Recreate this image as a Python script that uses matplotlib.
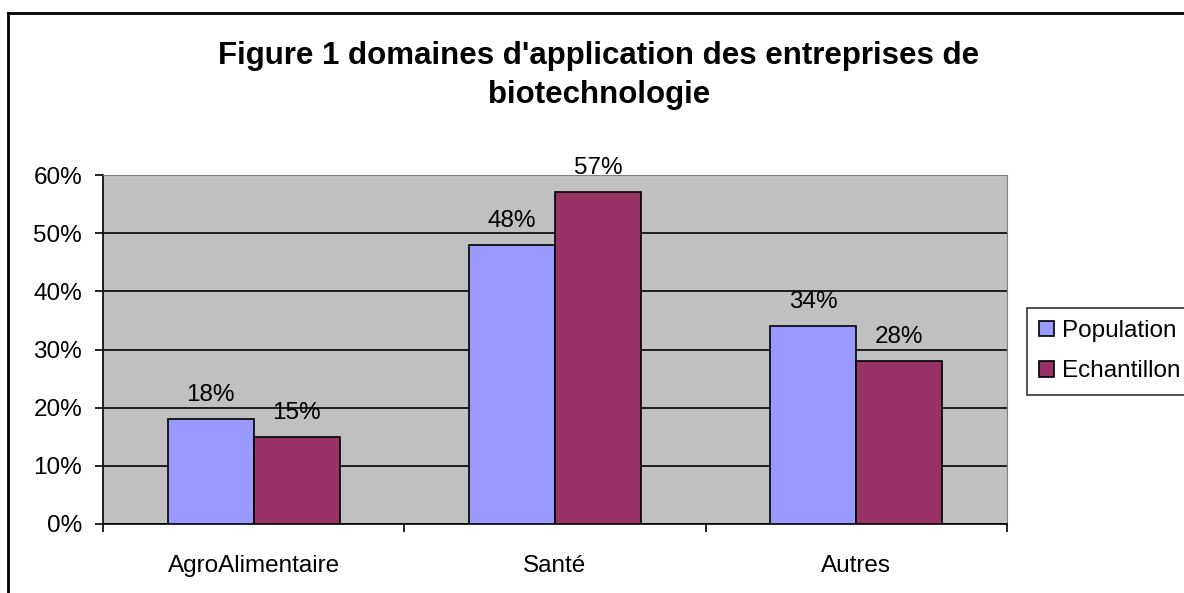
import numpy as np
import matplotlib.pyplot as plt
from matplotlib.lines import Line2D

plt.rcParams['font.family'] = ['Liberation Sans', 'DejaVu Sans']

# data
categories = ["AgroAlimentaire", "Santé", "Autres"]
population = [18, 48, 34]
echantillon = [15, 57, 28]
series_names = ["Population", "Echantillon"]
y_ticks = [0, 10, 20, 30, 40, 50, 60]

fs = 17.5

fig = plt.figure(figsize=(11.84, 5.93), dpi=100)
ax = fig.add_axes([103 / 1184, 1 - 524 / 593, (1007 - 103) / 1184, (524 - 175) / 593])
ax.set_facecolor("#C0C0C0")

x = np.arange(len(categories))
w = 0.285
b1 = ax.bar(x - w / 2, population, w, color="#9999FF", edgecolor="black", linewidth=1.2,
            label=series_names[0], zorder=3)
b2 = ax.bar(x + w / 2, echantillon, w, color="#993366", edgecolor="black", linewidth=1.2,
            label=series_names[1], zorder=3)

for bars, vals in [(b1, population), (b2, echantillon)]:
    for r, v in zip(bars, vals):
        ax.annotate(f"{v}%", (r.get_x() + r.get_width() / 2, v), xytext=(0, 13),
                    textcoords="offset points", ha="center", va="baseline",
                    fontsize=fs, annotation_clip=False, zorder=4)

ax.set_ylim(0, 60)
ax.set_xlim(-0.5, len(categories) - 0.5)
ax.set_yticks(y_ticks)
ax.set_yticklabels([f"{t}%" for t in y_ticks], fontsize=fs)
ax.yaxis.grid(True, color="black", linewidth=1.2, zorder=1)
ax.set_axisbelow(True)

# category ticks between groups, labels centred
ax.set_xticks(np.arange(len(categories) + 1) - 0.5)
ax.set_xticklabels([])
ax.set_xticks(x, minor=True)
ax.set_xticklabels(categories, minor=True, fontsize=fs)
ax.tick_params(axis="x", which="minor", length=0, pad=22)
ax.tick_params(axis="x", which="major", direction="out", length=6, width=1.2)
ax.tick_params(axis="y", direction="out", length=6, width=1.2, pad=9)

ax.spines["left"].set_color("black")
ax.spines["bottom"].set_color("black")
ax.spines["left"].set_linewidth(1.2)
ax.spines["bottom"].set_linewidth(1.2)
ax.spines["top"].set_color("#808080")
ax.spines["right"].set_color("#808080")

fig.text(599 / 1184, 1 - 75.5 / 593,
         "Figure 1 domaines d'application des entreprises de\nbiotechnologie",
         ha="center", va="center", fontsize=22.5, fontweight="bold", linespacing=1.4)

leg = fig.legend(handles=[b1, b2], loc="upper left", bbox_to_anchor=(1027 / 1184, 1 - 308 / 593),
                 fontsize=fs, frameon=True, fancybox=False, edgecolor="black",
                 handlelength=0.6, handleheight=0.6, handletextpad=0.35, borderpad=0.5,
                 labelspacing=0.75, borderaxespad=0)
leg.get_frame().set_linewidth(1.2)

# outer chart frame (left and top edges visible)
fig.add_artist(Line2D([8 / 1184, 8 / 1184], [0, 1 - 13 / 593], color="black", linewidth=2,
                      transform=fig.transFigure))
fig.add_artist(Line2D([8 / 1184, 1], [1 - 13 / 593, 1 - 13 / 593], color="black", linewidth=2,
                      transform=fig.transFigure))

fig.savefig("out.png", dpi=100)
